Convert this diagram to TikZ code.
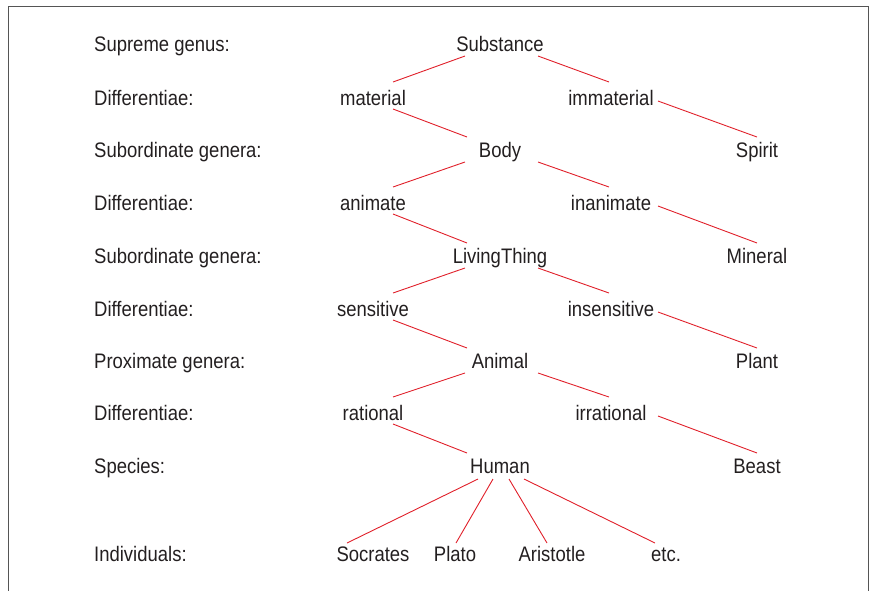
\documentclass[tikz,border=0pt]{standalone}
\usepackage{fontspec}
\setmainfont[FakeStretch=0.88]{Liberation Sans}
\usetikzlibrary{calc}
\definecolor{ink}{HTML}{231F20}
\definecolor{linered}{HTML}{E0202A}
\definecolor{framegray}{HTML}{555555}
\begin{document}
\begin{tikzpicture}[x=1pt,y=-1pt,
  txt/.style={inner sep=0pt,anchor=base,text=ink,font=\fontsize{21}{24}\selectfont},
  lbl/.style={txt,anchor=base west},
  conn/.style={draw=linered,line width=0.9pt}]
\useasboundingbox (0,0) rectangle (877,590);
% frame (top, left, right)
\draw[framegray,line width=0.9pt] (8.5,600) -- (8.5,6) -- (868,6) -- (868,600);
% left labels
\node[lbl] (l1) at (94,51) {Supreme genus:};
\node[lbl] (l2) at (94,105) {Differentiae:};
\node[lbl] (l3) at (94,157) {Subordinate genera:};
\node[lbl] (l4) at (94,210) {Differentiae:};
\node[lbl] (l5) at (94,263) {Subordinate genera:};
\node[lbl] (l6) at (94,316) {Differentiae:};
\node[lbl] (l7) at (94,368) {Proximate genera:};
\node[lbl] (l8) at (94,420) {Differentiae:};
\node[lbl] (l9) at (94,473) {Species:};
\node[lbl] (l10) at (94,561) {Individuals:};
% tree nodes
\node[txt] (substance) at (500,51) {Substance};
\node[txt] (material) at (373,105) {material};
\node[txt] (immaterial) at (611,105) {immaterial};
\node[txt] (body) at (500,157) {Body};
\node[txt] (spirit) at (757,157) {Spirit};
\node[txt] (animate) at (373,210) {animate};
\node[txt] (inanimate) at (611,210) {inanimate};
\node[txt] (living) at (500,263) {LivingThing};
\node[txt] (mineral) at (757,263) {Mineral};
\node[txt] (sensitive) at (373,316) {sensitive};
\node[txt] (insensitive) at (611,316) {insensitive};
\node[txt] (animal) at (500,368) {Animal};
\node[txt] (plant) at (757,368) {Plant};
\node[txt] (rational) at (373,420) {rational};
\node[txt] (irrational) at (611,420) {irrational};
\node[txt] (human) at (500,473) {Human};
\node[txt] (beast) at (757,473) {Beast};
\node[txt] (socrates) at (373,561) {Socrates};
\node[txt] (plato) at (455,561) {Plato};
\node[txt] (aristotle) at (552,561) {Aristotle};
\node[txt] (etc) at (666,561) {etc.};
% genus -> differentiae
\foreach \g/\l/\r in {substance/material/immaterial, body/animate/inanimate,
                      living/sensitive/insensitive, animal/rational/irrational}{
  \draw[conn] ($(\g.base)+(-35,5)$) -- ($(\l.base)+(20,-23)$);
  \draw[conn] ($(\g.base)+(38,5)$) -- ($(\r.base)+(-2,-23)$);
}
% differentiae -> genera
\foreach \l/\r/\gl/\gr in {material/immaterial/body/spirit, animate/inanimate/living/mineral,
                           sensitive/insensitive/animal/plant, rational/irrational/human/beast}{
  \draw[conn] ($(\l.base)+(20,4)$) -- ($(\gl.base)+(-33,-20)$);
  \draw[conn] ($(\r.base)+(47,-4)$) -- ($(\gr.base)+(0,-20)$);
}
% species -> individuals
\draw[conn] ($(human.base)+(-22,6)$) -- ($(socrates.base)+(-26,-18)$);
\draw[conn] ($(human.base)+(-7,6)$) -- ($(plato.base)+(1,-18)$);
\draw[conn] ($(human.base)+(9,6)$) -- ($(aristotle.base)+(-5,-18)$);
\draw[conn] ($(human.base)+(24,6)$) -- ($(etc.base)+(-11,-18)$);
\end{tikzpicture}
\end{document}
